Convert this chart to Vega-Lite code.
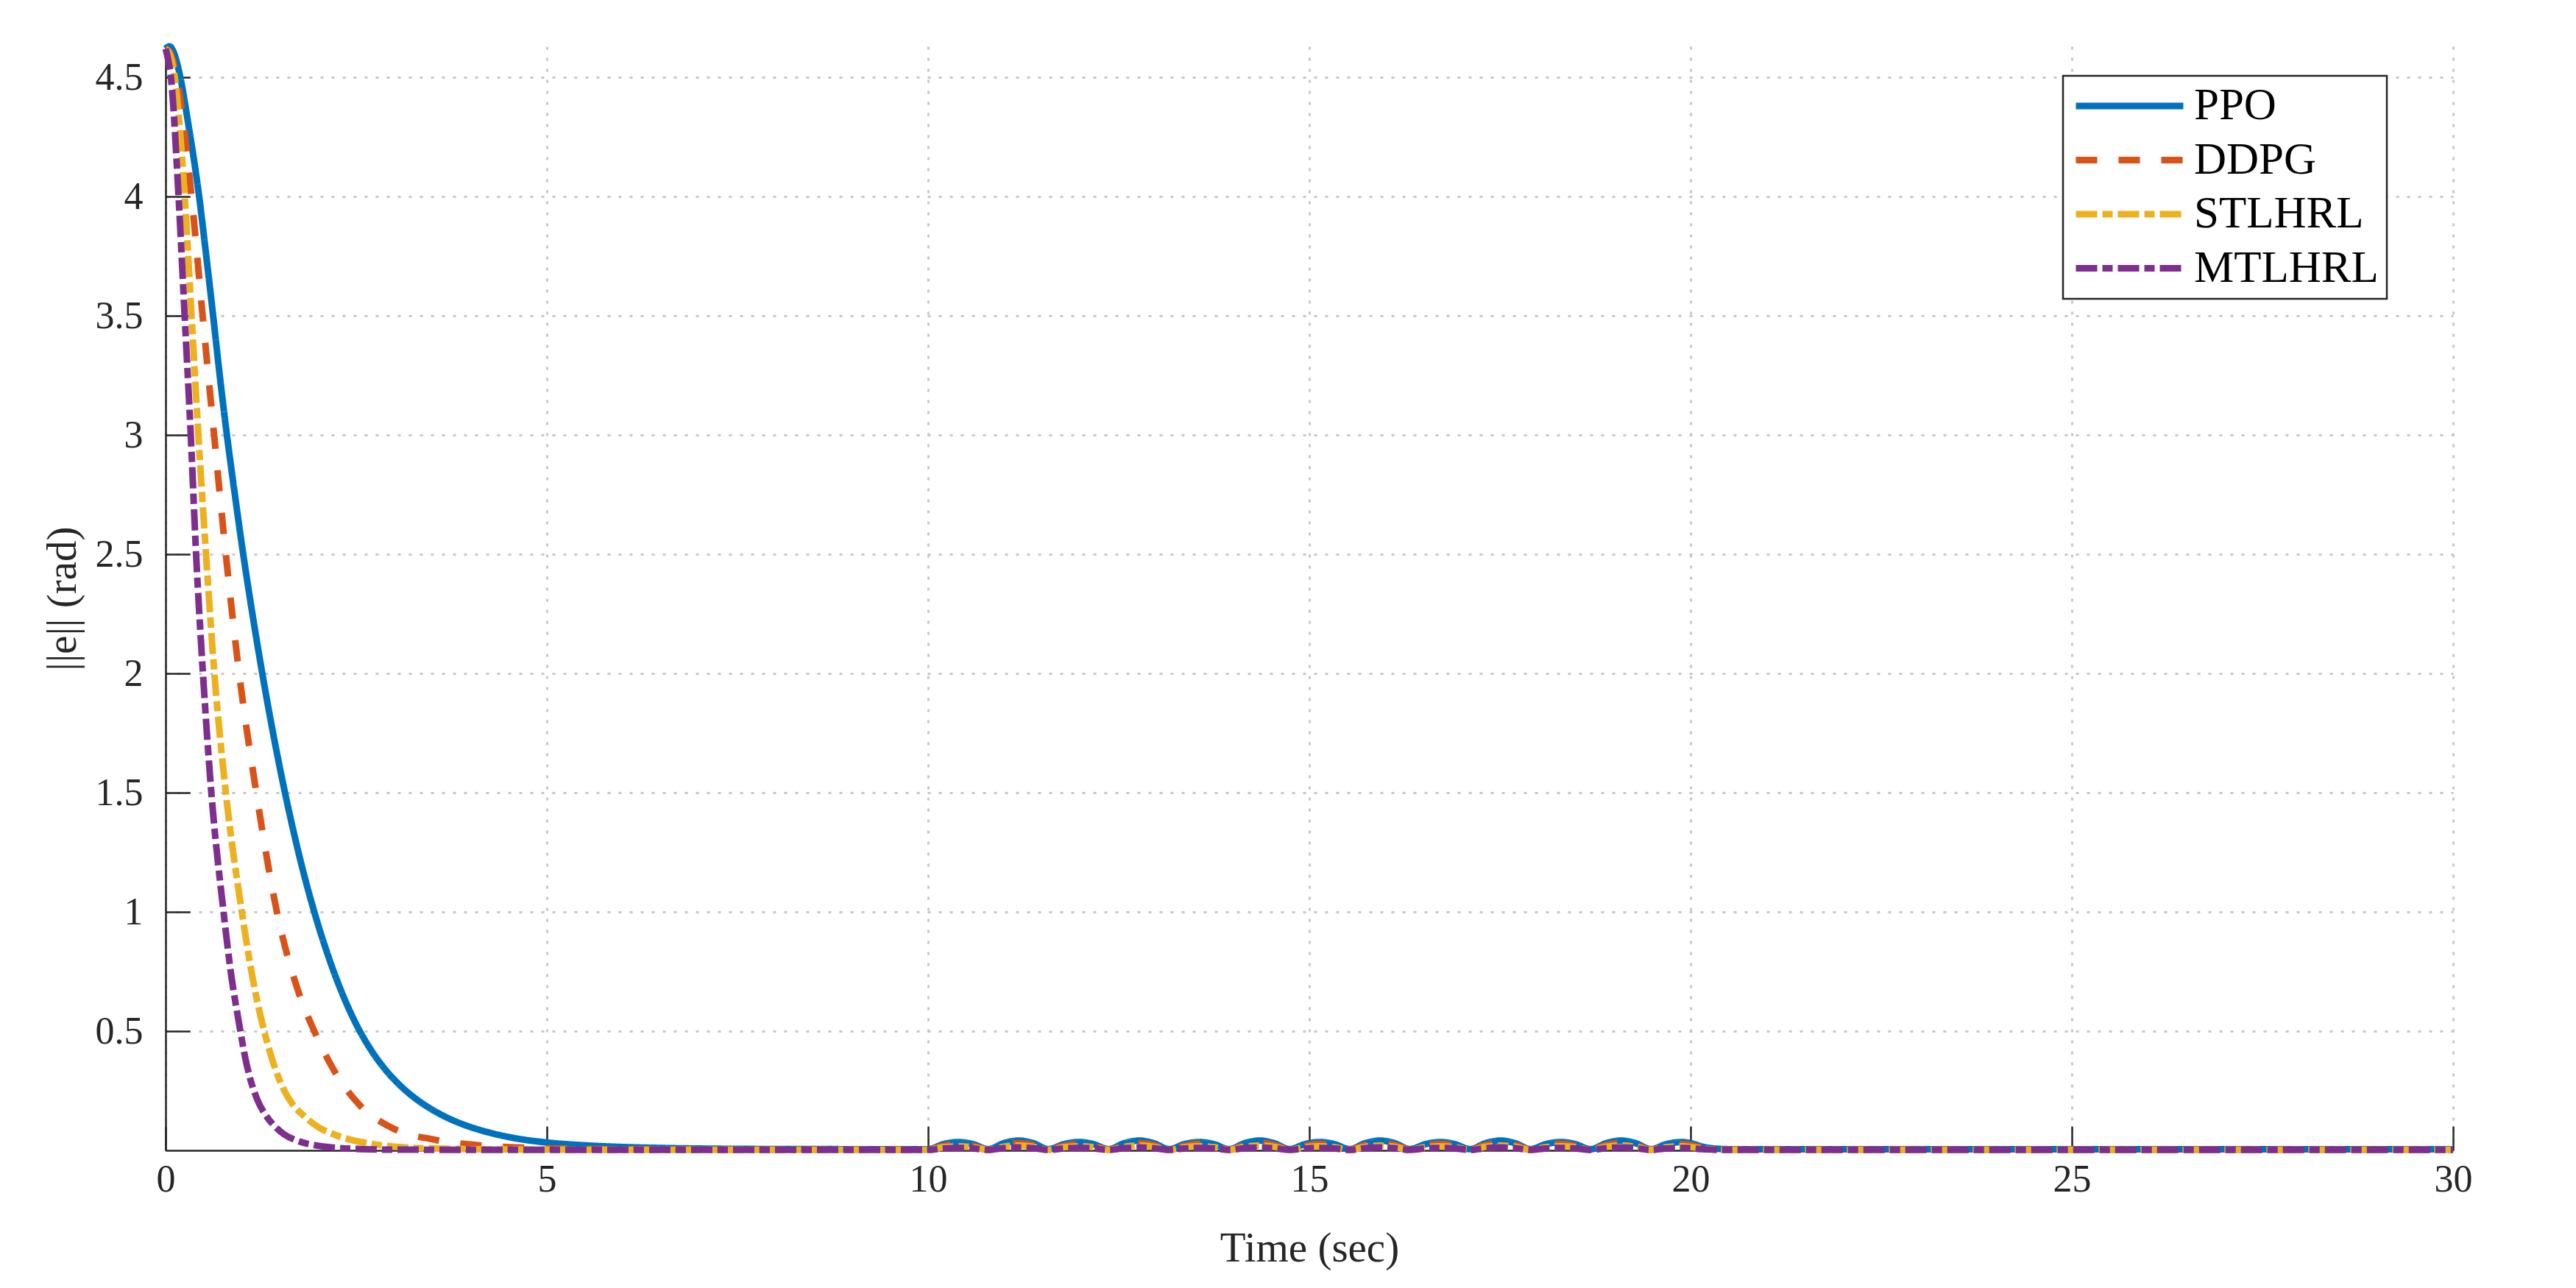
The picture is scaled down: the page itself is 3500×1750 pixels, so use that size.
{
"$schema": "https://vega.github.io/schema/vega-lite/v6.json",
"width": 3108, "height": 1500,
"autosize": {"type": "none"},
"padding": {"left": 225, "top": 63, "right": 167, "bottom": 187},
"background": "white",
"config": {
  "view": {"stroke": null},
  "font": "Liberation Serif",
  "axis": {
    "domainColor": "#262626", "domainWidth": 2.5,
    "tickColor": "#262626", "tickWidth": 2.5, "tickSize": -33,
    "labelFont": "Liberation Serif", "labelFontSize": 52, "labelColor": "#262626",
    "titleFont": "Liberation Serif", "titleFontSize": 57, "titleFontWeight": "normal", "titleColor": "#262626",
    "gridColor": "#c8c8c8", "gridDash": [4, 11], "gridWidth": 3
  }
},
"datasets": {"d": [
{"s":"PPO","t":0,"v":4.62},{"s":"PPO","t":0.05,"v":4.63},{"s":"PPO","t":0.1,"v":4.61},{"s":"PPO","t":0.18,"v":4.52},{"s":"PPO","t":0.3,"v":4.3},{"s":"PPO","t":0.44,"v":4.0},{"s":"PPO","t":0.53,"v":3.76},{"s":"PPO","t":0.62,"v":3.51},{"s":"PPO","t":0.71,"v":3.25},{"s":"PPO","t":0.8,"v":3.01},{"s":"PPO","t":0.9,"v":2.77},{"s":"PPO","t":1.0,"v":2.54},{"s":"PPO","t":1.1,"v":2.328},{"s":"PPO","t":1.2,"v":2.129},{"s":"PPO","t":1.3,"v":1.942},{"s":"PPO","t":1.4,"v":1.766},{"s":"PPO","t":1.5,"v":1.602},{"s":"PPO","t":1.6,"v":1.449},{"s":"PPO","t":1.7,"v":1.307},{"s":"PPO","t":1.8,"v":1.176},{"s":"PPO","t":1.95,"v":1.0},{"s":"PPO","t":2.1,"v":0.846},{"s":"PPO","t":2.3,"v":0.671},{"s":"PPO","t":2.5,"v":0.529},{"s":"PPO","t":2.7,"v":0.418},{"s":"PPO","t":2.9,"v":0.332},{"s":"PPO","t":3.1,"v":0.265},{"s":"PPO","t":3.3,"v":0.212},{"s":"PPO","t":3.5,"v":0.17},{"s":"PPO","t":3.7,"v":0.136},{"s":"PPO","t":3.9,"v":0.109},{"s":"PPO","t":4.16,"v":0.082},{"s":"PPO","t":4.6,"v":0.05},{"s":"PPO","t":5.0,"v":0.033},{"s":"PPO","t":5.5,"v":0.021},{"s":"PPO","t":6.0,"v":0.014},{"s":"PPO","t":6.5,"v":0.01},{"s":"PPO","t":7.0,"v":0.0075},{"s":"PPO","t":8.0,"v":0.0055},{"s":"PPO","t":9.0,"v":0.005},
{"s":"PPO","t":10.0,"v":0.005},{"s":"PPO","t":10.2,"v":0.026},{"s":"PPO","t":10.4,"v":0.035},{"s":"PPO","t":10.59,"v":0.026},
{"s":"PPO","t":10.79,"v":0.005},{"s":"PPO","t":10.99,"v":0.03},{"s":"PPO","t":11.19,"v":0.041},{"s":"PPO","t":11.38,"v":0.03},
{"s":"PPO","t":11.58,"v":0.005},{"s":"PPO","t":11.78,"v":0.026},{"s":"PPO","t":11.98,"v":0.035},{"s":"PPO","t":12.17,"v":0.026},
{"s":"PPO","t":12.37,"v":0.005},{"s":"PPO","t":12.57,"v":0.03},{"s":"PPO","t":12.77,"v":0.041},{"s":"PPO","t":12.96,"v":0.03},
{"s":"PPO","t":13.16,"v":0.005},{"s":"PPO","t":13.36,"v":0.026},{"s":"PPO","t":13.56,"v":0.035},{"s":"PPO","t":13.75,"v":0.026},
{"s":"PPO","t":13.95,"v":0.005},{"s":"PPO","t":14.15,"v":0.03},{"s":"PPO","t":14.35,"v":0.041},{"s":"PPO","t":14.54,"v":0.03},
{"s":"PPO","t":14.74,"v":0.005},{"s":"PPO","t":14.94,"v":0.026},{"s":"PPO","t":15.14,"v":0.035},{"s":"PPO","t":15.33,"v":0.026},
{"s":"PPO","t":15.53,"v":0.005},{"s":"PPO","t":15.73,"v":0.03},{"s":"PPO","t":15.93,"v":0.041},{"s":"PPO","t":16.12,"v":0.03},
{"s":"PPO","t":16.32,"v":0.005},{"s":"PPO","t":16.52,"v":0.026},{"s":"PPO","t":16.72,"v":0.035},{"s":"PPO","t":16.91,"v":0.026},
{"s":"PPO","t":17.11,"v":0.005},{"s":"PPO","t":17.31,"v":0.03},{"s":"PPO","t":17.51,"v":0.041},{"s":"PPO","t":17.7,"v":0.03},
{"s":"PPO","t":17.9,"v":0.005},{"s":"PPO","t":18.1,"v":0.026},{"s":"PPO","t":18.3,"v":0.035},{"s":"PPO","t":18.49,"v":0.026},
{"s":"PPO","t":18.69,"v":0.005},{"s":"PPO","t":18.89,"v":0.03},{"s":"PPO","t":19.09,"v":0.041},{"s":"PPO","t":19.28,"v":0.03},
{"s":"PPO","t":19.48,"v":0.005},{"s":"PPO","t":19.68,"v":0.026},{"s":"PPO","t":19.88,"v":0.035},
{"s":"PPO","t":20.0,"v":0.03},{"s":"PPO","t":20.15,"v":0.016},{"s":"PPO","t":20.3,"v":0.008},{"s":"PPO","t":20.5,"v":0.005},{"s":"PPO","t":25,"v":0.005},{"s":"PPO","t":30,"v":0.005},

{"s":"DDPG","t":0,"v":4.62},{"s":"DDPG","t":0.05,"v":4.61},{"s":"DDPG","t":0.145,"v":4.5},{"s":"DDPG","t":0.34,"v":4.0},{"s":"DDPG","t":0.48,"v":3.52},{"s":"DDPG","t":0.63,"v":3.02},{"s":"DDPG","t":0.79,"v":2.5},{"s":"DDPG","t":0.965,"v":2.0},{"s":"DDPG","t":1.19,"v":1.5},{"s":"DDPG","t":1.46,"v":1.0},{"s":"DDPG","t":1.74,"v":0.667},{"s":"DDPG","t":1.95,"v":0.5},{"s":"DDPG","t":2.2,"v":0.34},{"s":"DDPG","t":2.53,"v":0.195},{"s":"DDPG","t":2.97,"v":0.094},{"s":"DDPG","t":3.52,"v":0.045},{"s":"DDPG","t":4.05,"v":0.023},{"s":"DDPG","t":4.63,"v":0.012},{"s":"DDPG","t":5.5,"v":0.006},{"s":"DDPG","t":6.5,"v":0.004},{"s":"DDPG","t":8,"v":0.003},{"s":"DDPG","t":9,"v":0.003},
{"s":"DDPG","t":10.0,"v":0.003},{"s":"DDPG","t":10.2,"v":0.019},{"s":"DDPG","t":10.4,"v":0.026},{"s":"DDPG","t":10.59,"v":0.019},
{"s":"DDPG","t":10.79,"v":0.003},{"s":"DDPG","t":10.99,"v":0.022},{"s":"DDPG","t":11.19,"v":0.03},{"s":"DDPG","t":11.38,"v":0.022},
{"s":"DDPG","t":11.58,"v":0.003},{"s":"DDPG","t":11.78,"v":0.019},{"s":"DDPG","t":11.98,"v":0.026},{"s":"DDPG","t":12.17,"v":0.019},
{"s":"DDPG","t":12.37,"v":0.003},{"s":"DDPG","t":12.57,"v":0.022},{"s":"DDPG","t":12.77,"v":0.03},{"s":"DDPG","t":12.96,"v":0.022},
{"s":"DDPG","t":13.16,"v":0.003},{"s":"DDPG","t":13.36,"v":0.019},{"s":"DDPG","t":13.56,"v":0.026},{"s":"DDPG","t":13.75,"v":0.019},
{"s":"DDPG","t":13.95,"v":0.003},{"s":"DDPG","t":14.15,"v":0.022},{"s":"DDPG","t":14.35,"v":0.03},{"s":"DDPG","t":14.54,"v":0.022},
{"s":"DDPG","t":14.74,"v":0.003},{"s":"DDPG","t":14.94,"v":0.019},{"s":"DDPG","t":15.14,"v":0.026},{"s":"DDPG","t":15.33,"v":0.019},
{"s":"DDPG","t":15.53,"v":0.003},{"s":"DDPG","t":15.73,"v":0.022},{"s":"DDPG","t":15.93,"v":0.03},{"s":"DDPG","t":16.12,"v":0.022},
{"s":"DDPG","t":16.32,"v":0.003},{"s":"DDPG","t":16.52,"v":0.019},{"s":"DDPG","t":16.72,"v":0.026},{"s":"DDPG","t":16.91,"v":0.019},
{"s":"DDPG","t":17.11,"v":0.003},{"s":"DDPG","t":17.31,"v":0.022},{"s":"DDPG","t":17.51,"v":0.03},{"s":"DDPG","t":17.7,"v":0.022},
{"s":"DDPG","t":17.9,"v":0.003},{"s":"DDPG","t":18.1,"v":0.019},{"s":"DDPG","t":18.3,"v":0.026},{"s":"DDPG","t":18.49,"v":0.019},
{"s":"DDPG","t":18.69,"v":0.003},{"s":"DDPG","t":18.89,"v":0.022},{"s":"DDPG","t":19.09,"v":0.03},{"s":"DDPG","t":19.28,"v":0.022},
{"s":"DDPG","t":19.48,"v":0.003},{"s":"DDPG","t":19.68,"v":0.019},{"s":"DDPG","t":19.88,"v":0.026},
{"s":"DDPG","t":20.0,"v":0.022},{"s":"DDPG","t":20.15,"v":0.012},{"s":"DDPG","t":20.3,"v":0.006},{"s":"DDPG","t":20.5,"v":0.003},{"s":"DDPG","t":25,"v":0.003},{"s":"DDPG","t":30,"v":0.003},

{"s":"STLHRL","t":0,"v":4.62},{"s":"STLHRL","t":0.05,"v":4.6},{"s":"STLHRL","t":0.12,"v":4.5},{"s":"STLHRL","t":0.25,"v":4.0},{"s":"STLHRL","t":0.34,"v":3.5},{"s":"STLHRL","t":0.43,"v":3.0},{"s":"STLHRL","t":0.53,"v":2.5},{"s":"STLHRL","t":0.64,"v":2.0},{"s":"STLHRL","t":0.79,"v":1.5},{"s":"STLHRL","t":1.0,"v":1.0},{"s":"STLHRL","t":1.12,"v":0.76},{"s":"STLHRL","t":1.27,"v":0.53},{"s":"STLHRL","t":1.38,"v":0.4},{"s":"STLHRL","t":1.5,"v":0.29},{"s":"STLHRL","t":1.65,"v":0.2},{"s":"STLHRL","t":1.82,"v":0.143},{"s":"STLHRL","t":2.0,"v":0.098},{"s":"STLHRL","t":2.2,"v":0.068},{"s":"STLHRL","t":2.45,"v":0.043},{"s":"STLHRL","t":2.65,"v":0.03},{"s":"STLHRL","t":3.14,"v":0.012},{"s":"STLHRL","t":4,"v":0.005},{"s":"STLHRL","t":5,"v":0.003},{"s":"STLHRL","t":7,"v":0.002},{"s":"STLHRL","t":9,"v":0.002},
{"s":"STLHRL","t":10.0,"v":0.002},{"s":"STLHRL","t":10.2,"v":0.013},{"s":"STLHRL","t":10.4,"v":0.017},{"s":"STLHRL","t":10.59,"v":0.013},
{"s":"STLHRL","t":10.79,"v":0.002},{"s":"STLHRL","t":10.99,"v":0.015},{"s":"STLHRL","t":11.19,"v":0.02},{"s":"STLHRL","t":11.38,"v":0.015},
{"s":"STLHRL","t":11.58,"v":0.002},{"s":"STLHRL","t":11.78,"v":0.013},{"s":"STLHRL","t":11.98,"v":0.017},{"s":"STLHRL","t":12.17,"v":0.013},
{"s":"STLHRL","t":12.37,"v":0.002},{"s":"STLHRL","t":12.57,"v":0.015},{"s":"STLHRL","t":12.77,"v":0.02},{"s":"STLHRL","t":12.96,"v":0.015},
{"s":"STLHRL","t":13.16,"v":0.002},{"s":"STLHRL","t":13.36,"v":0.013},{"s":"STLHRL","t":13.56,"v":0.017},{"s":"STLHRL","t":13.75,"v":0.013},
{"s":"STLHRL","t":13.95,"v":0.002},{"s":"STLHRL","t":14.15,"v":0.015},{"s":"STLHRL","t":14.35,"v":0.02},{"s":"STLHRL","t":14.54,"v":0.015},
{"s":"STLHRL","t":14.74,"v":0.002},{"s":"STLHRL","t":14.94,"v":0.013},{"s":"STLHRL","t":15.14,"v":0.017},{"s":"STLHRL","t":15.33,"v":0.013},
{"s":"STLHRL","t":15.53,"v":0.002},{"s":"STLHRL","t":15.73,"v":0.015},{"s":"STLHRL","t":15.93,"v":0.02},{"s":"STLHRL","t":16.12,"v":0.015},
{"s":"STLHRL","t":16.32,"v":0.002},{"s":"STLHRL","t":16.52,"v":0.013},{"s":"STLHRL","t":16.72,"v":0.017},{"s":"STLHRL","t":16.91,"v":0.013},
{"s":"STLHRL","t":17.11,"v":0.002},{"s":"STLHRL","t":17.31,"v":0.015},{"s":"STLHRL","t":17.51,"v":0.02},{"s":"STLHRL","t":17.7,"v":0.015},
{"s":"STLHRL","t":17.9,"v":0.002},{"s":"STLHRL","t":18.1,"v":0.013},{"s":"STLHRL","t":18.3,"v":0.017},{"s":"STLHRL","t":18.49,"v":0.013},
{"s":"STLHRL","t":18.69,"v":0.002},{"s":"STLHRL","t":18.89,"v":0.015},{"s":"STLHRL","t":19.09,"v":0.02},{"s":"STLHRL","t":19.28,"v":0.015},
{"s":"STLHRL","t":19.48,"v":0.002},{"s":"STLHRL","t":19.68,"v":0.013},{"s":"STLHRL","t":19.88,"v":0.017},
{"s":"STLHRL","t":20.0,"v":0.014},{"s":"STLHRL","t":20.15,"v":0.008},{"s":"STLHRL","t":20.3,"v":0.004},{"s":"STLHRL","t":20.5,"v":0.002},{"s":"STLHRL","t":25,"v":0.002},{"s":"STLHRL","t":30,"v":0.002},

{"s":"MTLHRL","t":0,"v":4.62},{"s":"MTLHRL","t":0.03,"v":4.58},{"s":"MTLHRL","t":0.07,"v":4.5},{"s":"MTLHRL","t":0.17,"v":4.0},{"s":"MTLHRL","t":0.25,"v":3.5},{"s":"MTLHRL","t":0.33,"v":3.0},{"s":"MTLHRL","t":0.4,"v":2.5},{"s":"MTLHRL","t":0.49,"v":2.0},{"s":"MTLHRL","t":0.6,"v":1.5},{"s":"MTLHRL","t":0.76,"v":1.0},{"s":"MTLHRL","t":0.85,"v":0.76},{"s":"MTLHRL","t":0.97,"v":0.52},{"s":"MTLHRL","t":1.05,"v":0.38},{"s":"MTLHRL","t":1.11,"v":0.3},{"s":"MTLHRL","t":1.2,"v":0.215},{"s":"MTLHRL","t":1.33,"v":0.14},{"s":"MTLHRL","t":1.45,"v":0.095},{"s":"MTLHRL","t":1.56,"v":0.066},{"s":"MTLHRL","t":1.75,"v":0.038},{"s":"MTLHRL","t":1.95,"v":0.022},{"s":"MTLHRL","t":2.2,"v":0.012},{"s":"MTLHRL","t":2.5,"v":0.006},{"s":"MTLHRL","t":3,"v":0.003},{"s":"MTLHRL","t":5,"v":0.002},{"s":"MTLHRL","t":9,"v":0.002},
{"s":"MTLHRL","t":10.0,"v":0.002},{"s":"MTLHRL","t":10.2,"v":0.008},{"s":"MTLHRL","t":10.4,"v":0.01},{"s":"MTLHRL","t":10.59,"v":0.008},
{"s":"MTLHRL","t":10.79,"v":0.002},{"s":"MTLHRL","t":10.99,"v":0.009},{"s":"MTLHRL","t":11.19,"v":0.012},{"s":"MTLHRL","t":11.38,"v":0.009},
{"s":"MTLHRL","t":11.58,"v":0.002},{"s":"MTLHRL","t":11.78,"v":0.008},{"s":"MTLHRL","t":11.98,"v":0.01},{"s":"MTLHRL","t":12.17,"v":0.008},
{"s":"MTLHRL","t":12.37,"v":0.002},{"s":"MTLHRL","t":12.57,"v":0.009},{"s":"MTLHRL","t":12.77,"v":0.012},{"s":"MTLHRL","t":12.96,"v":0.009},
{"s":"MTLHRL","t":13.16,"v":0.002},{"s":"MTLHRL","t":13.36,"v":0.008},{"s":"MTLHRL","t":13.56,"v":0.01},{"s":"MTLHRL","t":13.75,"v":0.008},
{"s":"MTLHRL","t":13.95,"v":0.002},{"s":"MTLHRL","t":14.15,"v":0.009},{"s":"MTLHRL","t":14.35,"v":0.012},{"s":"MTLHRL","t":14.54,"v":0.009},
{"s":"MTLHRL","t":14.74,"v":0.002},{"s":"MTLHRL","t":14.94,"v":0.008},{"s":"MTLHRL","t":15.14,"v":0.01},{"s":"MTLHRL","t":15.33,"v":0.008},
{"s":"MTLHRL","t":15.53,"v":0.002},{"s":"MTLHRL","t":15.73,"v":0.009},{"s":"MTLHRL","t":15.93,"v":0.012},{"s":"MTLHRL","t":16.12,"v":0.009},
{"s":"MTLHRL","t":16.32,"v":0.002},{"s":"MTLHRL","t":16.52,"v":0.008},{"s":"MTLHRL","t":16.72,"v":0.01},{"s":"MTLHRL","t":16.91,"v":0.008},
{"s":"MTLHRL","t":17.11,"v":0.002},{"s":"MTLHRL","t":17.31,"v":0.009},{"s":"MTLHRL","t":17.51,"v":0.012},{"s":"MTLHRL","t":17.7,"v":0.009},
{"s":"MTLHRL","t":17.9,"v":0.002},{"s":"MTLHRL","t":18.1,"v":0.008},{"s":"MTLHRL","t":18.3,"v":0.01},{"s":"MTLHRL","t":18.49,"v":0.008},
{"s":"MTLHRL","t":18.69,"v":0.002},{"s":"MTLHRL","t":18.89,"v":0.009},{"s":"MTLHRL","t":19.09,"v":0.012},{"s":"MTLHRL","t":19.28,"v":0.009},
{"s":"MTLHRL","t":19.48,"v":0.002},{"s":"MTLHRL","t":19.68,"v":0.008},{"s":"MTLHRL","t":19.88,"v":0.01},
{"s":"MTLHRL","t":20.0,"v":0.009},{"s":"MTLHRL","t":20.15,"v":0.005},{"s":"MTLHRL","t":20.3,"v":0.003},{"s":"MTLHRL","t":20.5,"v":0.002},{"s":"MTLHRL","t":25,"v":0.002},{"s":"MTLHRL","t":30,"v":0.002}
]},
"data": {"name": "d"},
"mark": {"type": "line", "interpolate": "monotone", "strokeWidth": 9, "clip": false},
"encoding": {
  "x": {"field": "t", "type": "quantitative",
        "scale": {"domain": [0, 30], "nice": false, "zero": false},
        "axis": {"title": "Time (sec)", "values": [0, 5, 10, 15, 20, 25, 30], "format": "d",
                 "labelPadding": 47, "labelFlush": false, "labelOverlap": false, "titlePadding": 40}},
  "y": {"field": "v", "type": "quantitative",
        "scale": {"domain": [0, 4.63], "nice": false, "zero": false},
        "axis": {"title": "||e|| (rad)", "values": [0.5, 1, 1.5, 2, 2.5, 3, 3.5, 4, 4.5], "format": "~g",
                 "labelPadding": 64, "labelOverlap": false, "titlePadding": 15}},
  "color": {"field": "s", "type": "nominal",
            "scale": {"domain": ["PPO", "DDPG", "STLHRL", "MTLHRL"], "range": ["#0072BD", "#D95319", "#EDB120", "#7E2F8E"]},
            "legend": {"title": null, "orient": "none", "legendX": 2578, "legendY": 40,
                       "symbolType": "stroke", "symbolSize": 21316, "symbolStrokeWidth": 9,
                       "labelFont": "Liberation Serif", "labelFontSize": 61, "labelColor": "#000000",
                       "labelOffset": 10, "clipHeight": 60, "rowPadding": 12.5, "padding": 11,
                       "symbolOffset": 2, "strokeColor": "#262626", "fillColor": "white", "labelLimit": 0,
                       "encode": {"legend": {"update": {"stroke": {"value": "#262626"}, "strokeWidth": {"value": 2.5}}}}}},
  "strokeDash": {"field": "s", "type": "nominal",
                 "scale": {"domain": ["PPO", "DDPG", "STLHRL", "MTLHRL"], "range": [[1, 0], [29, 29], [29, 7, 14, 7], [29, 7, 14, 7]]}}
}
}
